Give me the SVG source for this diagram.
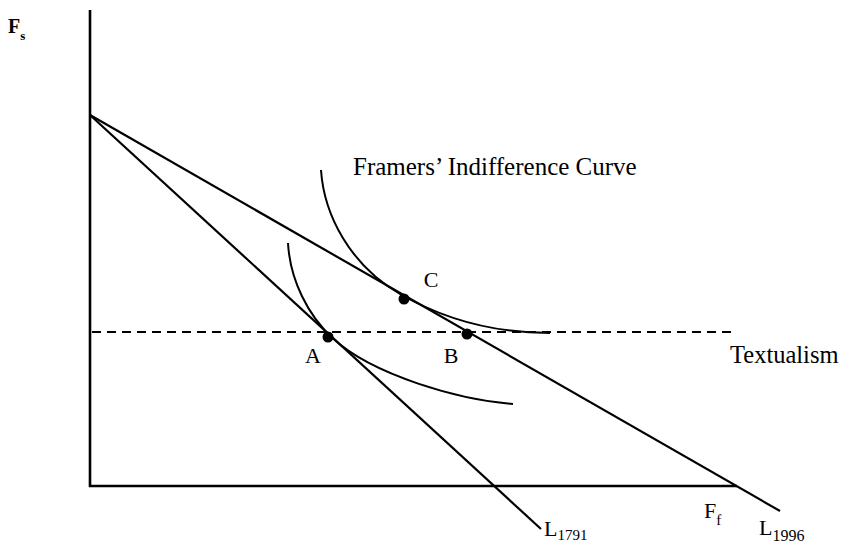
<svg xmlns="http://www.w3.org/2000/svg" width="845" height="544" viewBox="0 0 845 544">
<style>
.ax{stroke:#000;stroke-width:2.6;fill:none}
.ln{stroke:#000;stroke-width:2.2;fill:none}
.ic{stroke:#000;stroke-width:2;fill:none}
.ds{stroke:#000;stroke-width:2;fill:none;stroke-dasharray:9 6}
.t{font-family:"Liberation Serif","Times New Roman",serif;fill:#000}
</style>
<rect width="845" height="544" fill="#fff"/>
<g id="axes">
<line class="ax" x1="90" y1="10" x2="90" y2="487"/>
<line class="ax" x1="89" y1="486" x2="737" y2="486"/>
</g>
<g id="connectors">
<line id="L1791" class="ln" x1="90" y1="115" x2="541" y2="529"/>
<line id="L1996" class="ln" x1="90" y1="115" x2="780" y2="511"/>
<line id="textualism-line" class="ds" x1="92" y1="332" x2="735" y2="332"/>
<path id="ic-upper" class="ic" d="M321,170 C324,215 350,265 400,294 C440,317 490,333 550,333"/>
<path id="ic-lower" class="ic" d="M288,243 C290,280 308,315.6 333,338.6 C373,375.4 460,400 513,404"/>
</g>
<g id="point-A"><circle cx="328" cy="337" r="5.5"/><text class="t" x="313" y="363" font-size="22" text-anchor="middle">A</text></g>
<g id="point-B"><circle cx="467" cy="334" r="5.5"/><text class="t" x="451" y="363" font-size="22" text-anchor="middle">B</text></g>
<g id="point-C"><circle cx="404" cy="299" r="5.5"/><text class="t" x="431" y="287" font-size="22" text-anchor="middle">C</text></g>
<g id="labels">
<text class="t" x="353" y="175" font-size="25">Framers’ Indifference Curve</text>
<text class="t" x="730" y="363" font-size="24.5">Textualism</text>
<text class="t" x="8" y="33" font-size="20" font-weight="bold">F<tspan font-size="13" dy="7">s</tspan></text>
<text class="t" x="704" y="518" font-size="22">F<tspan font-size="15" dy="7">f</tspan></text>
<text class="t" x="544" y="536" font-size="22">L<tspan font-size="15" dy="4">1791</tspan></text>
<text class="t" x="759" y="535" font-size="22">L<tspan font-size="16" dy="6">1996</tspan></text>
</g>
</svg>
